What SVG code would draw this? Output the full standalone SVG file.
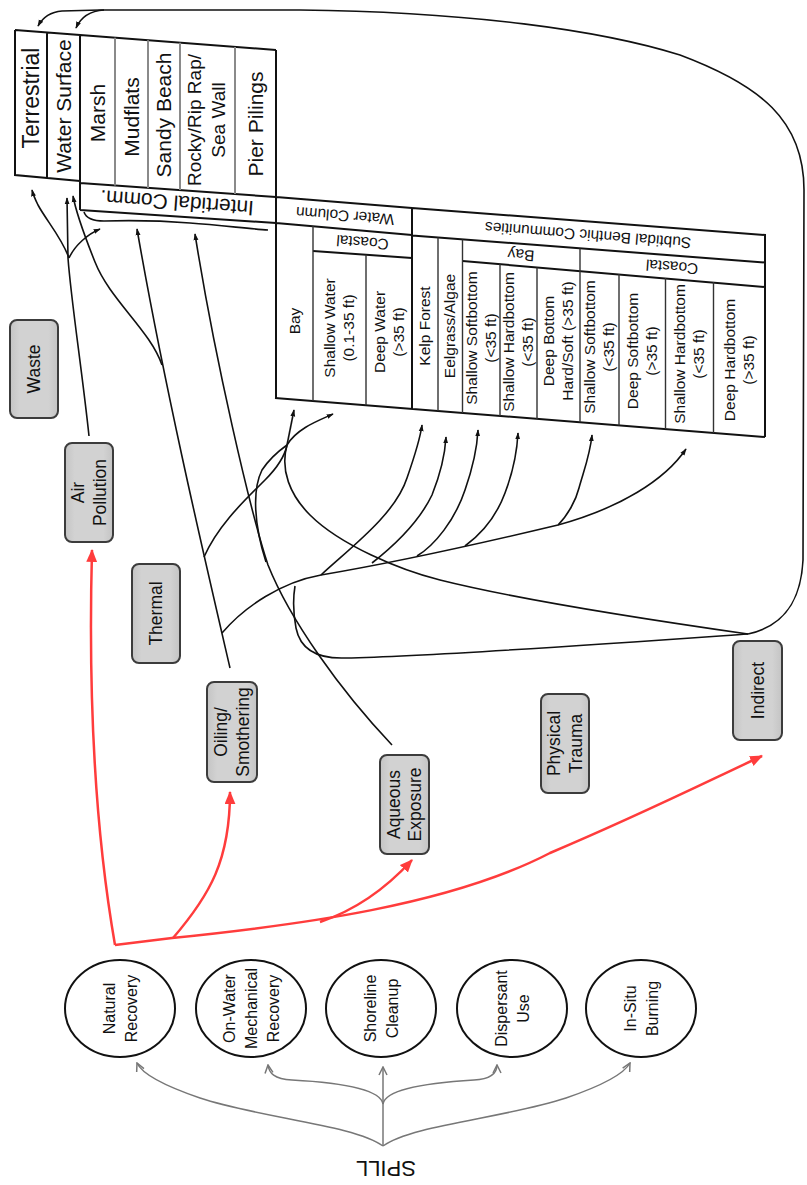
<svg xmlns="http://www.w3.org/2000/svg" width="807" height="1185" viewBox="0 0 807 1185">
<defs>
<marker id="ab" viewBox="0 0 10 10" refX="9" refY="5" markerWidth="7" markerHeight="7" markerUnits="userSpaceOnUse" orient="auto"><path d="M0,1.5 L10,5 L0,8.5 z" fill="#111"/></marker>
<marker id="ar" viewBox="0 0 12 10" refX="11" refY="5" markerWidth="13" markerHeight="11" markerUnits="userSpaceOnUse" orient="auto"><path d="M0,0 L12,5 L0,10 z" fill="#ff3c3c"/></marker>
<marker id="ag" viewBox="0 0 10 10" refX="9" refY="5" markerWidth="10" markerHeight="10" markerUnits="userSpaceOnUse" orient="auto"><path d="M1,1 L9,5 L1,9" fill="none" stroke="#777" stroke-width="1.5"/></marker>
<linearGradient id="bg" x1="0" y1="0" x2="1" y2="0"><stop offset="0" stop-color="#c4c4c4"/><stop offset="0.2" stop-color="#d2d2d2"/><stop offset="0.8" stop-color="#d2d2d2"/><stop offset="1" stop-color="#c4c4c4"/></linearGradient>
</defs>
<style>
text{font-family:"Liberation Sans",Arial,sans-serif;fill:#111;text-anchor:middle}
.f23{font-size:23px}.f21{font-size:21px}.f19{font-size:19px}.f15{font-size:15.5px}.f17{font-size:17.5px}.f16{font-size:16px}.f22{font-size:22px}
.ln{stroke:#111;stroke-width:2;fill:none}
.lg{stroke:#8a8a8a;stroke-width:2;fill:none}
.li{stroke:#333;stroke-width:1.4;fill:none}
.box{fill:url(#bg);stroke:#3c3c3c;stroke-width:2}
.ell{fill:#fff;stroke:#111;stroke-width:2}
.c{fill:none;stroke:#111;stroke-width:1.6}
.r{fill:none;stroke:#ff3c3c;stroke-width:2.5}
.g{fill:none;stroke:#777;stroke-width:1.5}
</style>
<rect width="807" height="1185" fill="#fff"/>

<g id="table-upper">
<path class="ln" d="M15,30 L276,50 M15,30 L15,175 L80,181 M47,32.5 L47,178 M80,35 L80,210 M276,50 L276,398 M80,183 L276,197 L412,208 M80,210 L276,223 L412,235"/>
<path class="lg" d="M115,37.7 L115,185.5 M148,40.2 L148,187.9 M180,42.7 L180,190.1 M235,46.9 L235,194"/>
<g id="n-terrestrial"><text class="f23" transform="translate(31,98) rotate(-90)" y="8">Terrestrial</text></g>
<g id="n-water-surface"><text class="f21" transform="translate(63.5,106) rotate(-90)" y="7.35">Water Surface</text></g>
<g id="n-marsh"><text class="f21" transform="translate(97.5,113) rotate(-90)" y="7.35">Marsh</text></g>
<g id="n-mudflats"><text class="f21" transform="translate(131.5,117) rotate(-90)" y="7.35">Mudflats</text></g>
<g id="n-sandy"><text class="f21" transform="translate(164,115) rotate(-90)" y="7.35">Sandy Beach</text></g>
<g id="n-rocky"><text class="f19" transform="translate(206,120) rotate(-90)"><tspan x="0" y="-5.3">Rocky/Rip Rap/</tspan><tspan x="0" y="18.7">Sea Wall</tspan></text></g>
<g id="n-pier"><text class="f21" transform="translate(255.5,124) rotate(-90)" y="7.35">Pier Pilings</text></g>
<g id="n-intertidal"><text class="f21" transform="translate(177,203) rotate(184.2)" y="7.35">Intertidal Comm.</text></g>
</g>

<g id="table-lower">
<path class="ln" d="M412,208 L765,235 L765,437 M275,398 L765,437 M412,208 L412,409 M412,235.5 L765,262.5 M462.5,261 L765,287 M313,251 L412,258"/>
<path class="li" d="M313,226 L313,401 M366,254.7 L366,405.2 M438,237.5 L438,411 M462.5,239.4 L462.5,413 M500,264.2 L500,416 M537,267.4 L537,419 M580,248.4 L580,422.3 M619,274 L619,425.4 M665.5,278 L665.5,429 M713.5,282 L713.5,433"/>
<g id="n-water-column"><text class="f15" transform="translate(345,216) rotate(184.4)" y="5.4">Water Column</text></g>
<g id="n-wc-coastal"><text class="f15" transform="translate(362.5,242.5) rotate(184.4)" y="5.4">Coastal</text></g>
<g id="n-subtidal"><text class="f15" transform="translate(588,235.3) rotate(184.4)" y="5.4">Subtidal Benthic Communities</text></g>
<g id="n-st-bay"><text class="f15" transform="translate(521,255) rotate(184.4)" y="5.4">Bay</text></g>
<g id="n-st-coastal"><text class="f15" transform="translate(672,267) rotate(184.4)" y="5.4">Coastal</text></g>
<g id="n-wc-bay"><text class="f15" transform="translate(295,321) rotate(-90)" y="5.4">Bay</text></g>
<g id="n-shallow-water"><text class="f15" transform="translate(339.5,328) rotate(-90)"><tspan x="0" y="-4.1">Shallow Water</tspan><tspan x="0" y="14.9">(0.1-35 ft)</tspan></text></g>
<g id="n-deep-water"><text class="f15" transform="translate(389,332) rotate(-90)"><tspan x="0" y="-4.1">Deep Water</tspan><tspan x="0" y="14.9">(&gt;35 ft)</tspan></text></g>
<g id="n-kelp"><text class="f15" transform="translate(425,326) rotate(-90)" y="5.4">Kelp Forest</text></g>
<g id="n-eelgrass"><text class="f15" transform="translate(450,326) rotate(-90)" y="5.4">Eelgrass/Algae</text></g>
<g id="n-bay-ssoft"><text class="f15" transform="translate(481,338) rotate(-90)"><tspan x="0" y="-4.1">Shallow Softbottom</tspan><tspan x="0" y="14.9">(&lt;35 ft)</tspan></text></g>
<g id="n-bay-shard"><text class="f15" transform="translate(518.5,342) rotate(-90)"><tspan x="0" y="-4.1">Shallow Hardbottom</tspan><tspan x="0" y="14.9">(&lt;35 ft)</tspan></text></g>
<g id="n-bay-deep"><text class="f15" transform="translate(558.5,341) rotate(-90)"><tspan x="0" y="-4.1">Deep Bottom</tspan><tspan x="0" y="14.9">Hard/Soft (&gt;35 ft)</tspan></text></g>
<g id="n-co-ssoft"><text class="f15" transform="translate(599.5,347) rotate(-90)"><tspan x="0" y="-4.1">Shallow Softbottom</tspan><tspan x="0" y="14.9">(&lt;35 ft)</tspan></text></g>
<g id="n-co-dsoft"><text class="f15" transform="translate(642,351) rotate(-90)"><tspan x="0" y="-4.1">Deep Softbottom</tspan><tspan x="0" y="14.9">(&gt;35 ft)</tspan></text></g>
<g id="n-co-shard"><text class="f15" transform="translate(689.5,354) rotate(-90)"><tspan x="0" y="-4.1">Shallow Hardbottom</tspan><tspan x="0" y="14.9">(&lt;35 ft)</tspan></text></g>
<g id="n-co-dhard"><text class="f15" transform="translate(739,360) rotate(-90)"><tspan x="0" y="-4.1">Deep Hardbottom</tspan><tspan x="0" y="14.9">(&gt;35 ft)</tspan></text></g>
</g>

<g id="connectors">
<g id="black">
<path class="c" d="M748,634 C785,626 801,600 803,560 L804,190 C804,120 760,85 680,55 C600,30 470,12 300,10 L100,10"/>
<path class="c" marker-end="url(#ab)" d="M100,10 L62,11 C50,12 43,17 38,26"/>
<path class="c" marker-end="url(#ab)" d="M104,10 C88,11 80,19 76,28"/>
<path class="c" d="M748,634 C650,620 520,600 440,580 C400,570 340,545 310,515 C290,495 280,470 287,445"/>
<path class="c" marker-end="url(#ab)" d="M287,445 L294,410"/>
<path class="c" marker-end="url(#ab)" d="M287,445 C297,428 320,420 333,414"/>
<path class="c" d="M204,557 C218,525 245,500 265,480 C278,467 285,455 287,445"/>
<path class="c" d="M266,562 C254,525 252,490 262,470 C270,458 280,450 287,445"/>
<path class="c" marker-end="url(#ab)" d="M392,745 C340,690 290,620 268,565 C250,510 215,360 195,234"/>
<path class="c" marker-end="url(#ab)" d="M230,668 C205,560 165,390 137,229"/>
<path class="c" marker-end="url(#ab)" d="M162,365 C150,330 110,300 95,262 C83,232 76,212 73,196"/>
<path class="c" marker-end="url(#ab)" d="M89,436 C82,370 71,300 68,258 L67,198"/>
<path class="c" marker-end="url(#ab)" d="M69,258 C62,238 46,220 38,205 C35,199 33,194 32,190"/>
<path class="c" marker-end="url(#ab)" d="M69,258 C75,245 88,234 100,229"/>
<path class="c" d="M84,212 C86,218 92,221 104,221 C140,220 165,221 190,223 C220,225 250,229 268,230"/>
<path class="c" marker-end="url(#ab)" d="M222,633 C245,606 282,582 321,575 C380,565 470,546 558,525 C620,508 665,480 686,449"/>
<path class="c" marker-end="url(#ab)" d="M321,575 C350,548 395,515 407,478 C415,455 420,440 422,425"/>
<path class="c" marker-end="url(#ab)" d="M372,563 C395,545 420,520 432,495 C440,475 445,455 446,437"/>
<path class="c" marker-end="url(#ab)" d="M417,556 C435,545 455,520 465,490 C472,470 477,450 478,430"/>
<path class="c" marker-end="url(#ab)" d="M465,546 C480,535 495,520 505,493 C513,472 517,452 518,433"/>
<path class="c" marker-end="url(#ab)" d="M558,525 C568,515 576,500 579,488 C584,470 590,455 592,435"/>
<path class="c" d="M748,634 C620,643 440,656 345,658 C315,659 300,648 296,628 C293,612 293,598 295,586"/>
</g>
<g id="red">
<path class="r" marker-end="url(#ar)" d="M115,945 C95,830 88,700 92,550"/>
<path class="r" marker-end="url(#ar)" d="M173,938 C210,895 230,860 230,792"/>
<path class="r" marker-end="url(#ar)" d="M115,945 L172,938 C300,925 450,905 550,853 C640,815 700,785 762,756"/>
<path class="r" marker-end="url(#ar)" d="M320,922 C350,912 380,895 412,860"/>
</g>
<g id="gray">
<path class="g" marker-end="url(#ag)" d="M383,1146 L383,1067"/>
<path class="g" marker-end="url(#ag)" d="M383,1146 C355,1125 260,1118 200,1098 C165,1086 142,1074 137,1063"/>
<path class="g" marker-end="url(#ag)" d="M383,1146 C411,1125 506,1118 566,1098 C601,1086 624,1074 630,1063"/>
<path class="g" marker-end="url(#ag)" d="M383,1104 C380,1087 330,1082 292,1080 C274,1079 269,1073 268,1065"/>
<path class="g" marker-end="url(#ag)" d="M383,1104 C386,1087 440,1082 474,1080 C492,1079 497,1073 497,1065"/>
</g>
</g>

<g id="n-waste"><rect class="box" x="10" y="320" width="48" height="98" rx="7"/><text class="f17" transform="translate(34,369) rotate(-90)" y="6.1">Waste</text></g>
<g id="n-air"><rect class="box" x="65" y="443" width="48" height="99" rx="7"/><text class="f17" transform="translate(89,492.5) rotate(-90)"><tspan x="0" y="-4.65">Air</tspan><tspan x="0" y="16.85">Pollution</tspan></text></g>
<g id="n-thermal"><rect class="box" x="132" y="564" width="48" height="99" rx="7"/><text class="f17" transform="translate(156,613.5) rotate(-90)" y="6.1">Thermal</text></g>
<g id="n-oiling"><rect class="box" x="207" y="682" width="50" height="100" rx="7"/><text class="f17" transform="translate(232,732) rotate(-90)"><tspan x="0" y="-4.65">Oiling/</tspan><tspan x="0" y="16.85">Smothering</tspan></text></g>
<g id="n-aqueous"><rect class="box" x="380" y="755" width="49" height="99" rx="7"/><text class="f17" transform="translate(404.5,804.5) rotate(-90)"><tspan x="0" y="-4.65">Aqueous</tspan><tspan x="0" y="16.85">Exposure</tspan></text></g>
<g id="n-physical"><rect class="box" x="541" y="694" width="48" height="99" rx="7"/><text class="f17" transform="translate(565,743.5) rotate(-90)"><tspan x="0" y="-4.65">Physical</tspan><tspan x="0" y="16.85">Trauma</tspan></text></g>
<g id="n-indirect"><rect class="box" x="733" y="641" width="49" height="99" rx="7"/><text class="f17" transform="translate(757.5,690.5) rotate(-90)" y="6.1">Indirect</text></g>

<g id="n-natural"><ellipse class="ell" cx="120" cy="1008.5" rx="55" ry="48.5"/><text class="f16" transform="translate(120,1008.5) rotate(-90)"><tspan x="0" y="-5.4">Natural</tspan><tspan x="0" y="16.6">Recovery</tspan></text></g>
<g id="n-onwater"><ellipse class="ell" cx="251" cy="1008.5" rx="55" ry="48.5"/><text class="f16" transform="translate(251,1008.5) rotate(-90)"><tspan x="0" y="-16.4">On-Water</tspan><tspan x="0" y="5.6">Mechanical</tspan><tspan x="0" y="27.6">Recovery</tspan></text></g>
<g id="n-shoreline"><ellipse class="ell" cx="381" cy="1008.5" rx="55" ry="48.5"/><text class="f16" transform="translate(381,1008.5) rotate(-90)"><tspan x="0" y="-5.4">Shoreline</tspan><tspan x="0" y="16.6">Cleanup</tspan></text></g>
<g id="n-dispersant"><ellipse class="ell" cx="512" cy="1008.5" rx="55" ry="48.5"/><text class="f16" transform="translate(512,1008.5) rotate(-90)"><tspan x="0" y="-5.4">Dispersant</tspan><tspan x="0" y="16.6">Use</tspan></text></g>
<g id="n-insitu"><ellipse class="ell" cx="641" cy="1008.5" rx="55" ry="48.5"/><text class="f16" transform="translate(641,1008.5) rotate(-90)"><tspan x="0" y="-5.4">In-Situ</tspan><tspan x="0" y="16.6">Burning</tspan></text></g>
<g id="n-spill"><text class="f22" transform="translate(386,1169) rotate(180)" y="7.7">SPILL</text></g>
</svg>
